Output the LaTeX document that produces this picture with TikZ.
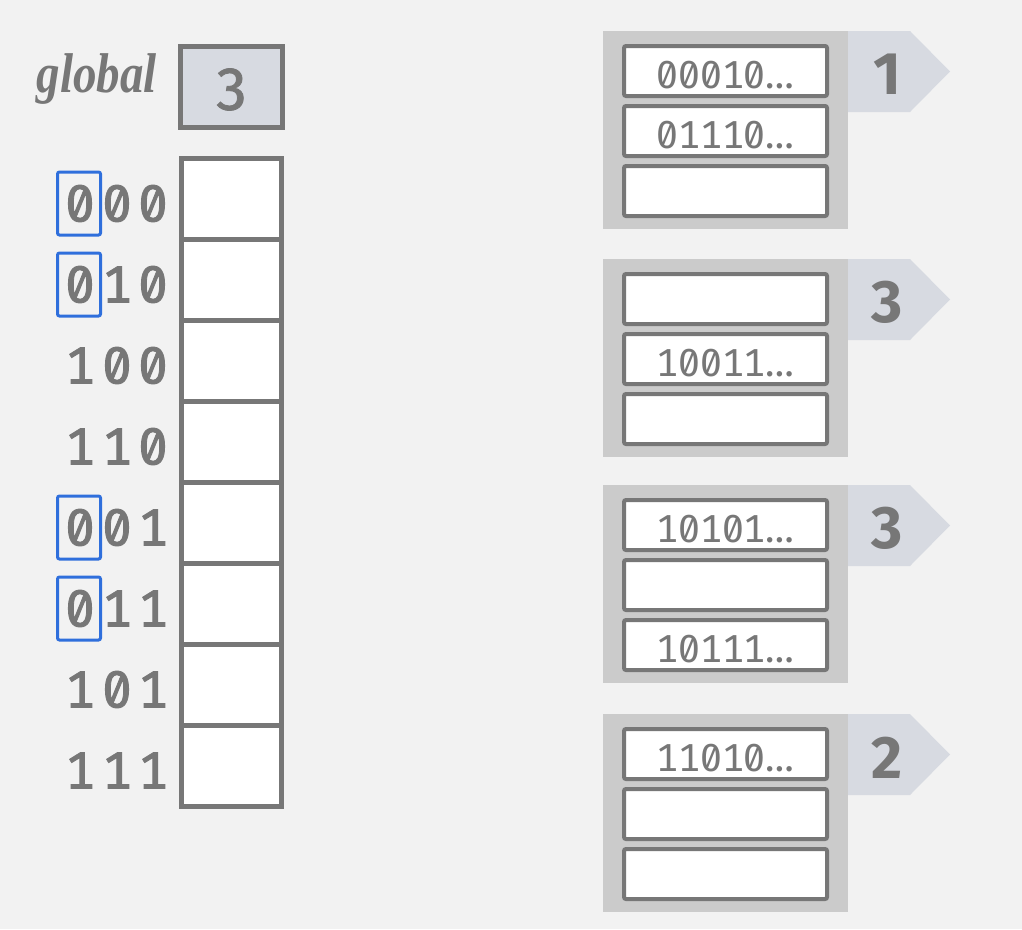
\documentclass[tikz,border=0pt]{standalone}
\usepackage{fontspec}
\newfontfamily\digitfont[Numbers={Monospaced,SlashedZero}]{Fira Sans}
\newfontfamily\digitmed[Numbers={Monospaced,SlashedZero},FakeBold=1.6]{Fira Sans}
\newfontfamily\firafont{Fira Sans}
\newfontfamily\firamed[FakeBold=1.3]{Fira Sans}
\newfontfamily\serifit{Liberation Serif}
\definecolor{bg}{HTML}{F2F2F2}
\definecolor{ink}{HTML}{777777}
\definecolor{tagfill}{HTML}{D7DAE1}
\definecolor{bucketfill}{HTML}{CBCBCB}
\definecolor{blueb}{HTML}{2F6FDC}
\begin{document}
\begin{tikzpicture}[x=1pt,y=-1pt,
  cell/.style={draw=ink, line width=5pt, fill=white, minimum width=100pt, minimum height=81pt, inner sep=0pt, outer sep=0pt},
  digit/.style={text=ink, inner sep=0pt, font=\digitmed\fontsize{52}{52}\selectfont},
  bluebox/.style={draw=blueb, line width=3pt, rounded corners=2pt, minimum width=43pt, minimum height=63pt, inner sep=0pt},
  bucket/.style={fill=bucketfill, minimum width=245pt, minimum height=198pt, inner sep=0pt, outer sep=0pt},
  slot/.style={draw=ink, line width=4pt, fill=white, rounded corners=2pt, minimum width=203pt, minimum height=50pt, inner sep=0pt},
  slottext/.style={text=ink, inner sep=0pt, font=\digitfont\fontsize{39}{39}\selectfont},
  tagnum/.style={text=ink, inner sep=0pt, font=\firafont\bfseries\fontsize{60}{60}\selectfont},
  globalbox/.style={draw=ink, line width=5pt, fill=tagfill, minimum width=102pt, minimum height=81pt, inner sep=0pt},
  globallabel/.style={text=ink, inner sep=0pt, font=\serifit\bfseries\itshape\fontsize{56}{56}\selectfont}
]
\fill[bg] (0,0) rectangle (1022,929);
\useasboundingbox (0,0) rectangle (1022,929);

% global depth
\node[globallabel, anchor=base east] (glabel) at (157,92) {\scalebox{0.84}[1]{global}};
\node[globalbox] (gbox) at (231.5,87) {};
\node[text=ink, inner sep=0pt, font=\firamed\fontsize{61}{61}\selectfont] (gval) at (231.5,89.5) {3};

% directory
\foreach \i in {0,...,7} {
  \node[cell] (d\i) at (231.5,{158+81*(\i+0.5)}) {};
}
\foreach \a/\b/\c/\hl [count=\i from 0] in {0/0/0/1, 0/1/0/1, 1/0/0/0, 1/1/0/0, 0/0/1/1, 0/1/1/1, 1/0/1/0, 1/1/1/0} {
  \node[digit] (l\i a) at (80,{158+81*(\i+0.5)+5}) {\a};
  \node[digit] (l\i b) at (117,{158+81*(\i+0.5)+5}) {\b};
  \node[digit] (l\i c) at (153,{158+81*(\i+0.5)+5}) {\c};
  \ifnum\hl=1
    \node[bluebox] (h\i) at (79,{158+81*(\i+0.5)+5}) {};
  \fi
}

% buckets
\foreach \top/\n/\ta/\tb/\tc [count=\k] in {31/1/{00010…}/{01110…}/{}, 259/3/{}/{10011…}/{}, 485/3/{10101…}/{}/{10111…}, 714/2/{11010…}/{}/{}} {
  \node[bucket] (b\k) at (725.5,{\top+99}) {};
  \fill[tagfill] (848,\top) -- (910,\top) -- (950,{\top+40.5}) -- (910,{\top+81}) -- (848,{\top+81}) -- cycle;
  \node[tagnum] (t\k) at (887,{\top+43.5}) {\n};
  \node[slot] (s\k a) at (725.5,{\top+40}) {};
  \node[slot] (s\k b) at (725.5,{\top+100}) {};
  \node[slot] (s\k c) at (725.5,{\top+160}) {};
  \node[slottext] (x\k a) at (725.5,{\top+44.5}) {\ta};
  \node[slottext] (x\k b) at (725.5,{\top+104.5}) {\tb};
  \node[slottext] (x\k c) at (725.5,{\top+164.5}) {\tc};
}
\end{tikzpicture}
\end{document}
